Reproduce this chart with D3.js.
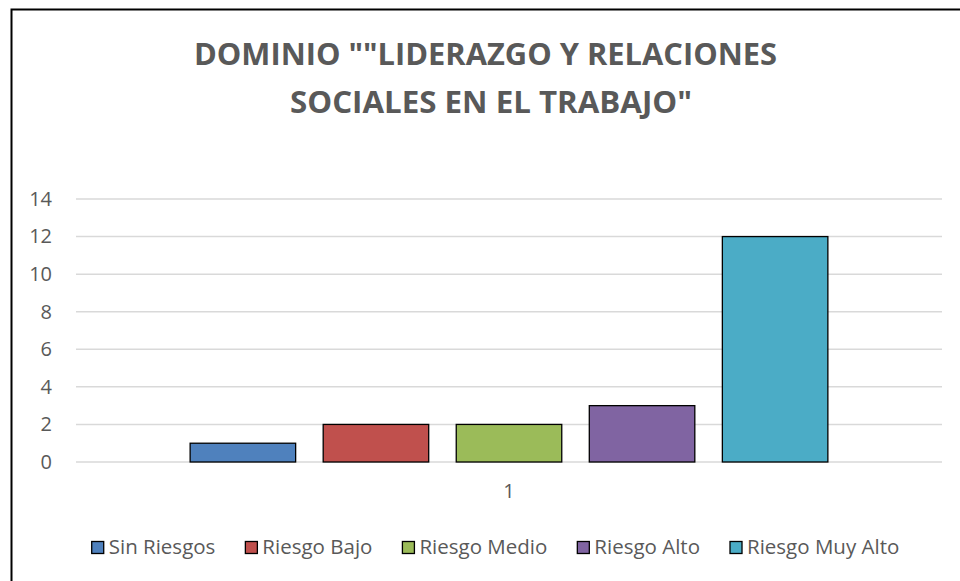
<!DOCTYPE html>
<html lang="es">
<head>
<meta charset="UTF-8">
<title>Dominio Liderazgo y Relaciones Sociales en el Trabajo</title>
<script src="https://d3js.org/d3.v7.min.js"></script>
<style>
  body { margin: 0; background: #fff; }
  svg { display: block; font-family: "Open Sans", sans-serif; }
</style>
</head>
<body>
<div id="chart"></div>
<script>
// data
const categories = ["1"];
const seriesNames = ["Sin Riesgos", "Riesgo Bajo", "Riesgo Medio", "Riesgo Alto", "Riesgo Muy Alto"];
const seriesValues = [1, 2, 2, 3, 12];
const seriesColors = ["#4F81BD", "#C0504D", "#9BBB59", "#8064A2", "#4BACC6"];
const yTicks = [0, 2, 4, 6, 8, 10, 12, 14];
const titleLines = ['DOMINIO ""LIDERAZGO Y RELACIONES', 'SOCIALES EN EL TRABAJO"'];

const width = 960, height = 581;
const plot = { left: 76, right: 942, top: 199, bottom: 462 };

const svg = d3.select("#chart").append("svg")
    .attr("width", width)
    .attr("height", height);

// outer chart border (cut off on right and bottom like the screenshot)
svg.append("rect")
    .attr("x", 11.5).attr("y", 9.5)
    .attr("width", 1000).attr("height", 700)
    .attr("fill", "none")
    .attr("stroke", "#000")
    .attr("stroke-width", 2);

// title
svg.append("g").selectAll("text")
    .data(titleLines)
    .enter().append("text")
    .attr("x", (d, i) => i === 0 ? 485.5 : 491)
    .attr("y", (d, i) => 64.5 + i * 48.5)
    .attr("text-anchor", "middle")
    .attr("font-size", 31)
    .attr("font-weight", "bold")
    .attr("fill", "#595959")
    .attr("textLength", (d, i) => i === 0 ? 583 : 402)
    .attr("lengthAdjust", "spacingAndGlyphs")
    .text(d => d);

// scales
const y = d3.scaleLinear().domain([0, 14]).range([plot.bottom, plot.top]);
const x0 = d3.scaleBand().domain(categories).range([plot.left, plot.right]).padding(0.1518);
const x1 = d3.scaleBand().domain(seriesNames).range([0, x0.bandwidth()]).paddingInner(0.207).paddingOuter(0);

// gridlines
svg.append("g").selectAll("line")
    .data(yTicks)
    .enter().append("line")
    .attr("x1", plot.left).attr("x2", plot.right)
    .attr("y1", d => y(d)).attr("y2", d => y(d))
    .attr("stroke", "#d9d9d9")
    .attr("stroke-width", 1.5);

// y axis labels
const yAxis = svg.append("g")
    .attr("transform", `translate(${plot.left - 16},0)`)
    .call(d3.axisLeft(y).tickValues(yTicks).tickSize(0).tickPadding(8));
yAxis.select(".domain").remove();
yAxis.selectAll("text")
    .attr("font-size", 20)
    .attr("font-family", "'Open Sans', sans-serif")
    .attr("fill", "#595959");

// x axis label
const xAxis = svg.append("g")
    .attr("transform", `translate(0,${plot.bottom})`)
    .call(d3.axisBottom(x0).tickSize(0).tickPadding(22));
xAxis.select(".domain").remove();
xAxis.selectAll("text")
    .attr("font-size", 20)
    .attr("font-family", "'Open Sans', sans-serif")
    .attr("fill", "#595959");

// bars
svg.append("g").selectAll("rect")
    .data(seriesValues.map((v, i) => ({ name: seriesNames[i], value: v, color: seriesColors[i], cat: categories[0] })))
    .enter().append("rect")
    .attr("x", d => x0(d.cat) + x1(d.name))
    .attr("y", d => y(d.value))
    .attr("width", x1.bandwidth())
    .attr("height", d => y(0) - y(d.value))
    .attr("fill", d => d.color)
    .attr("stroke", "#000")
    .attr("stroke-width", 1.3);

// legend
const legend = svg.append("g");
const items = legend.selectAll("g")
    .data(seriesNames)
    .enter().append("g");
items.append("rect")
    .attr("width", 12).attr("height", 12)
    .attr("y", 541.5)
    .attr("fill", (d, i) => seriesColors[i])
    .attr("stroke", "#000")
    .attr("stroke-width", 1.3);
items.append("text")
    .attr("x", 17)
    .attr("y", 554)
    .attr("font-size", 20.5)
    .attr("fill", "#595959")
    .text(d => d);

let pos = 0;
items.each(function () {
    const w = 17 + d3.select(this).select("text").node().getComputedTextLength();
    d3.select(this).attr("transform", `translate(${pos},0)`);
    pos += w + 30;
});
const legendWidth = pos - 30;
legend.attr("transform", `translate(${495.5 - legendWidth / 2},0)`);
</script>
</body>
</html>
